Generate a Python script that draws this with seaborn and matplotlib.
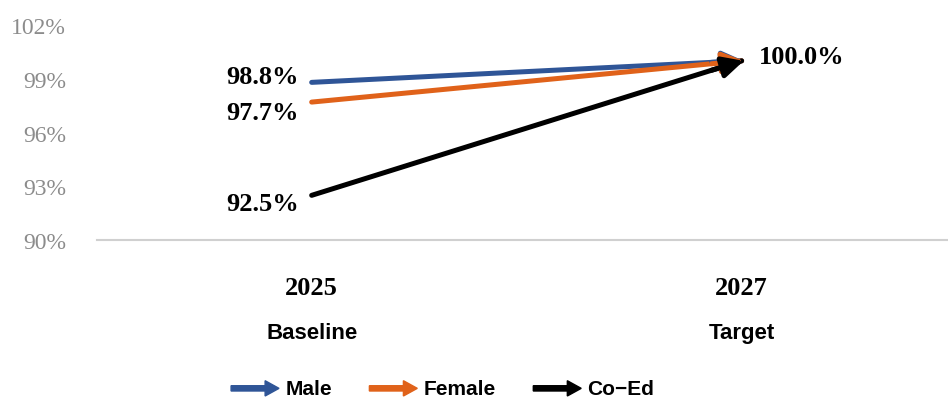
import pandas as pd
import seaborn as sns
import matplotlib.pyplot as plt
from matplotlib.patches import FancyArrow
from matplotlib.legend_handler import HandlerLine2D

years = ["2025", "2027"]
stages = ["Baseline", "Target"]
groups = ["Male", "Female", "Co\u2212Ed"]
baseline = [98.8, 97.7, 92.5]
target = [100.0, 100.0, 100.0]
colors = ["#2F5597", "#E0621A", "#000000"]
yticks = [90, 93, 96, 99, 102]

rows = []
for g, b, t in zip(groups, baseline, target):
    rows.append({"group": g, "year": years[0], "value": b})
    rows.append({"group": g, "year": years[1], "value": t})
df = pd.DataFrame(rows)

sns.set_style("white")
plt.rcParams["text.color"] = "black"
plt.rcParams["xtick.color"] = "black"
fig = plt.figure(figsize=(9.48, 4.06), dpi=100)
ax = fig.add_axes([0.102, 0.406, 0.898, 0.530])

sns.lineplot(data=df, x="year", y="value", hue="group", palette=colors,
             linewidth=3.6, ax=ax, legend=False, sort=False)

# arrow heads at the target end
for g, b, t, c in zip(groups, baseline, target, colors):
    ax.annotate("", xy=(1.005, t), xytext=(0.93, b + (t - b) * 0.93),
                arrowprops=dict(arrowstyle="-|>,head_length=0.9,head_width=0.45",
                                mutation_scale=14, color=c, lw=3.6,
                                shrinkA=0, shrinkB=0))

# value labels
offsets = [0.3, -0.6, -0.45]
for b, off in zip(baseline, offsets):
    ax.text(-0.03, b + off, f"{b:.1f}%", ha="right", va="center",
            fontsize=19, fontweight="bold", family="Liberation Serif")
ax.text(1.04, target[0] + 0.25, f"{target[0]:.1f}%", ha="left", va="center",
        fontsize=19, fontweight="bold", family="Liberation Serif")

ax.set_ylim(90, 102)
ax.set_xlim(-0.5, 1.48)
ax.set_yticks(yticks)
ax.set_yticklabels([f"{v}%" for v in yticks], color="#8C8C8C",
                   fontsize=17, family="Liberation Serif")
ax.tick_params(axis="y", length=0, pad=22)
ax.tick_params(axis="x", length=0, pad=26)
ax.set_xticks([0, 1])
ax.set_xticklabels(years, fontsize=19, fontweight="bold",
                   family="Liberation Serif")
for i, s in enumerate(stages):
    ax.text(i, -0.43, s, transform=ax.get_xaxis_transform(), ha="center",
            va="center", fontsize=16, fontweight="bold",
            family="Liberation Sans")

ax.set_xlabel("")
ax.set_ylabel("")
for side in ["top", "right", "left"]:
    ax.spines[side].set_visible(False)
ax.spines["bottom"].set_color("#D0D0D0")
ax.spines["bottom"].set_linewidth(1.5)


class ArrowHandler(HandlerLine2D):
    def create_artists(self, legend, orig_handle, xdescent, ydescent,
                       width, height, fontsize, trans):
        c = orig_handle.get_color()
        arr = FancyArrow(0, height / 2 - 1, width, 0, width=3.8,
                         head_width=11, head_length=10,
                         length_includes_head=True, color=c, transform=trans)
        return [arr]


handles = [plt.Line2D([], [], color=c) for c in colors]
fig.legend(handles, groups, handler_map={plt.Line2D: ArrowHandler()},
           loc="center", bbox_to_anchor=(0.467, 0.04), ncol=3, frameon=False,
           prop={"family": "Liberation Sans", "weight": "bold", "size": 15},
           handlelength=2.3, handletextpad=0.3, columnspacing=1.8)

fig.savefig("out.png", dpi=100)
